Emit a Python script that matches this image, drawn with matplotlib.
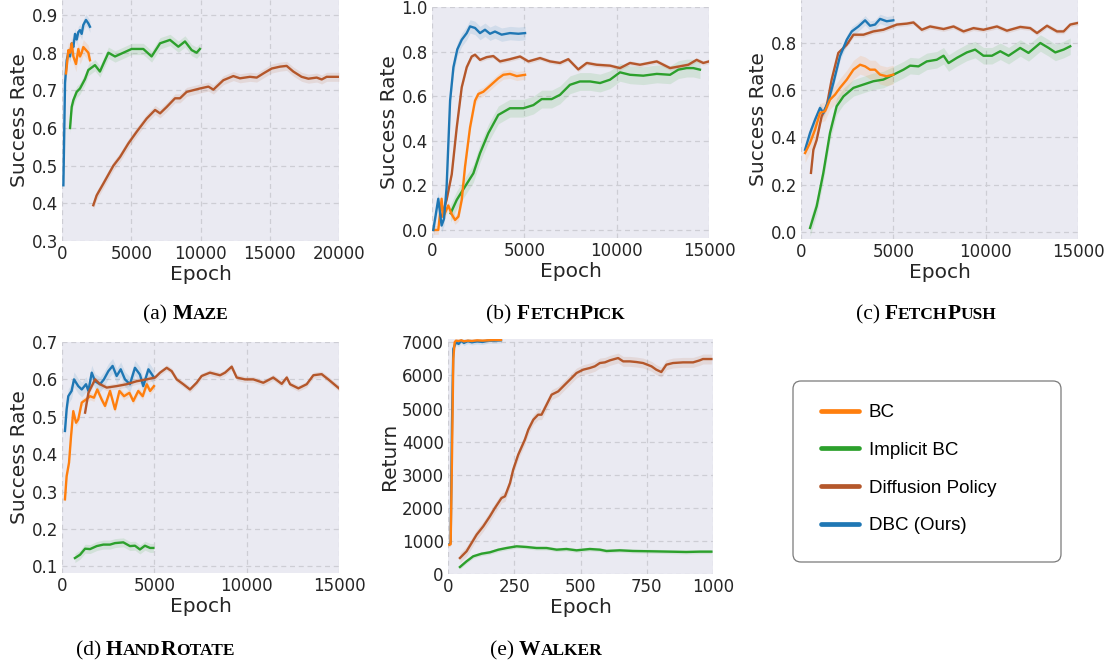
import matplotlib
matplotlib.use("Agg")
import matplotlib.pyplot as plt
from matplotlib.lines import Line2D
from matplotlib.patches import FancyBboxPatch
from matplotlib.transforms import IdentityTransform
from matplotlib.offsetbox import TextArea, HPacker, AnnotationBbox

# ---- data ----
# (a) Maze
maze_dbc_x = [100, 220, 340, 460, 580, 700, 820, 940, 1060, 1180, 1300, 1420, 1540, 1730, 1900, 2020]
maze_dbc_y = [0.448, 0.72, 0.78, 0.80, 0.79, 0.825, 0.815, 0.85, 0.835, 0.855, 0.86, 0.85, 0.874, 0.887,
              0.878, 0.869]
maze_bc_x = [290, 460, 580, 700, 820, 1010, 1180, 1300, 1420, 1540, 1660, 1900, 2020]
maze_bc_y = [0.745, 0.807, 0.80, 0.825, 0.79, 0.77, 0.81, 0.79, 0.80, 0.815, 0.81, 0.80, 0.78]
maze_ibc_x = [580, 700, 820, 1060, 1300, 1660, 1900, 2380, 2740, 2980, 3350, 3830, 4430, 5030,
              5870, 6470, 7080, 7800, 8400, 8880, 9360, 9720, 9960]
maze_ibc_y = [0.60, 0.656, 0.674, 0.696, 0.705, 0.73, 0.754, 0.767, 0.75, 0.77, 0.80, 0.79, 0.80, 0.81,
              0.81, 0.79, 0.825, 0.834, 0.816, 0.83, 0.807, 0.80, 0.81]
maze_dp_x = [2260, 2500, 2980, 3710, 4190, 4790, 5390, 6110, 6720, 7080, 7560, 8160, 8520, 9000, 9960,
             10570, 10930, 11650, 12370, 12850, 13570, 14060, 14540, 15140, 15740, 16220, 16700,
             17300, 17790, 18390, 18750, 19110, 20000]
maze_dp_y = [0.395, 0.421, 0.452, 0.50, 0.523, 0.559, 0.59, 0.625, 0.648, 0.639, 0.656, 0.679, 0.679,
             0.696, 0.705, 0.71, 0.702, 0.727, 0.738, 0.732, 0.736, 0.734, 0.745, 0.758, 0.763, 0.765,
             0.75, 0.736, 0.731, 0.734, 0.729, 0.736, 0.736]

# (b) FetchPick
pick_dbc_x = [70, 340, 520, 650, 790, 980, 1160, 1370, 1610, 1880, 2060, 2330, 2600, 2870, 3140, 3410,
              3770, 4220, 4680, 5040]
pick_dbc_y = [0.0, 0.14, 0.02, 0.05, 0.19, 0.58, 0.73, 0.81, 0.853, 0.883, 0.913, 0.906, 0.883, 0.898,
              0.88, 0.89, 0.876, 0.883, 0.88, 0.883]
pick_bc_x = [70, 340, 520, 610, 700, 880, 1070, 1250, 1430, 1610, 1790, 2060, 2330, 2510, 2780, 3050,
             3320, 3590, 3860, 4220, 4590, 5040]
pick_bc_y = [0.0, 0.0, 0.14, 0.06, 0.075, 0.11, 0.07, 0.045, 0.06, 0.135, 0.285, 0.46, 0.58, 0.61, 0.62,
             0.64, 0.66, 0.68, 0.696, 0.70, 0.69, 0.696]
pick_ibc_x = [1010, 1340, 1790, 2240, 2600, 3050, 3590, 4220, 4950, 5490, 5940, 6480, 6930, 7470, 8010,
              8560, 9100, 9640, 10180, 10720, 11440, 12170, 12890, 13340, 13790, 14150, 14510]
pick_ibc_y = [0.075, 0.135, 0.195, 0.254, 0.344, 0.434, 0.516, 0.546, 0.546, 0.56, 0.587, 0.587, 0.606,
              0.651, 0.666, 0.666, 0.659, 0.674, 0.707, 0.696, 0.692, 0.70, 0.696, 0.719, 0.726, 0.726,
              0.719]
pick_dp_x = [520, 790, 1070, 1340, 1610, 1880, 2150, 2330, 2600, 2960, 3320, 3680, 4220, 4770, 5220,
             5850, 6390, 6930, 7380, 7920, 8380, 8920, 9640, 10180, 10720, 11260, 12170, 12890, 13430,
             13880, 14330, 14690, 15000]
pick_dp_y = [0.06, 0.135, 0.25, 0.46, 0.64, 0.73, 0.778, 0.786, 0.763, 0.775, 0.78, 0.756, 0.766, 0.778,
             0.756, 0.771, 0.756, 0.749, 0.766, 0.72, 0.749, 0.741, 0.737, 0.726, 0.749, 0.741, 0.756,
             0.726, 0.734, 0.741, 0.763, 0.749, 0.756]

# (c) FetchPush
push_dbc_x = [220, 490, 760, 1030, 1210, 1480, 1750, 2110, 2480, 2750, 3110, 3470, 3740, 4010, 4280,
              4640, 5000]
push_dbc_y = [0.348, 0.419, 0.475, 0.525, 0.504, 0.553, 0.63, 0.744, 0.814, 0.849, 0.87, 0.896, 0.873,
              0.878, 0.902, 0.892, 0.896]
push_bc_x = [220, 490, 760, 1030, 1300, 1570, 1840, 2110, 2480, 2840, 3200, 3470, 3740, 4010, 4280,
             4640, 5000]
push_bc_y = [0.334, 0.377, 0.433, 0.504, 0.511, 0.56, 0.581, 0.61, 0.645, 0.687, 0.708, 0.701, 0.687,
             0.687, 0.666, 0.659, 0.666]
push_ibc_x = [490, 850, 1210, 1570, 1930, 2300, 2840, 3380, 3920, 4460, 5010, 5550, 5910, 6360, 6810,
              7350, 7720, 7990, 8440, 8980, 9430, 9880, 10340, 10790, 11240, 11870, 12320, 12960, 13410,
              13770, 14220, 14580]
push_ibc_y = [0.017, 0.109, 0.25, 0.419, 0.532, 0.574, 0.61, 0.624, 0.638, 0.645, 0.666, 0.687, 0.704,
              0.701, 0.722, 0.729, 0.746, 0.715, 0.737, 0.76, 0.772, 0.746, 0.746, 0.765, 0.746, 0.779,
              0.758, 0.80, 0.779, 0.76, 0.772, 0.786]
push_dp_x = [540, 670, 850, 1120, 1390, 1660, 2020, 2480, 2840, 3380, 3920, 4460, 5190, 5730, 6090,
             6540, 6990, 7720, 8260, 8800, 9340, 9880, 10610, 11150, 11870, 12410, 12780, 13320, 13860,
             14220, 14580, 15000]
push_dp_y = [0.25, 0.348, 0.39, 0.49, 0.532, 0.645, 0.758, 0.793, 0.835, 0.835, 0.849, 0.856, 0.878,
             0.882, 0.887, 0.856, 0.87, 0.859, 0.87, 0.849, 0.863, 0.856, 0.87, 0.852, 0.868, 0.863,
             0.842, 0.873, 0.849, 0.849, 0.878, 0.885]

# (d) HandRotate
hand_dbc_x = [160, 250, 340, 520, 650, 880, 1070, 1300, 1430, 1610, 1790, 2060, 2270, 2510, 2740, 2960,
              3180, 3410, 3680, 3950, 4220, 4400, 4680, 4980]
hand_dbc_y = [0.462, 0.52, 0.555, 0.569, 0.60, 0.582, 0.573, 0.587, 0.569, 0.618, 0.595, 0.587, 0.60,
              0.622, 0.636, 0.609, 0.627, 0.60, 0.587, 0.631, 0.613, 0.582, 0.627, 0.605]
hand_bc_x = [160, 250, 380, 490, 610, 760, 880, 1070, 1300, 1520, 1730, 1910, 2150, 2330, 2600, 2870,
             3110, 3360, 3650, 3860, 4130, 4370, 4590, 4770, 4980]
hand_bc_y = [0.279, 0.341, 0.377, 0.448, 0.515, 0.484, 0.493, 0.538, 0.546, 0.555, 0.551, 0.573, 0.546,
             0.529, 0.569, 0.52, 0.569, 0.555, 0.564, 0.542, 0.569, 0.555, 0.587, 0.569, 0.582]
hand_ibc_x = [700, 980, 1250, 1520, 1880, 2240, 2600, 2870, 3320, 3680, 3950, 4220, 4490, 4770, 4950]
hand_ibc_y = [0.122, 0.131, 0.147, 0.146, 0.154, 0.158, 0.158, 0.162, 0.164, 0.154, 0.155, 0.145, 0.155,
              0.149, 0.149]
hand_dp_x = [1250, 1430, 1790, 2060, 2420, 2960, 3500, 4040, 4590, 5040, 5310, 5670, 5940, 6210, 6570,
             6930, 7290, 7560, 8010, 8560, 8830, 9190, 9460, 9910, 10360, 10900, 11440, 11900, 12170,
             12350, 12800, 13250, 13610, 14060, 14420, 15000]
hand_dp_y = [0.511, 0.564, 0.60, 0.587, 0.578, 0.582, 0.587, 0.595, 0.60, 0.605, 0.618, 0.631, 0.622,
             0.60, 0.587, 0.573, 0.591, 0.609, 0.618, 0.611, 0.618, 0.634, 0.605, 0.60, 0.60, 0.591,
             0.605, 0.588, 0.605, 0.587, 0.576, 0.587, 0.611, 0.614, 0.60, 0.576]

# (e) Walker
walker_dbc_x = [5, 10, 15, 20, 25, 30, 40, 50, 60, 75, 90, 110, 130, 150, 175, 200]
walker_dbc_y = [900, 950, 4500, 6800, 6900, 7000, 6950, 7050, 6980, 7040, 7000, 7030, 7010, 7050, 7050, 7060]
walker_bc_x = [5, 10, 15, 20, 25, 30, 40, 50, 60, 75, 90, 110, 130, 150, 175, 200]
walker_bc_y = [880, 900, 3500, 6500, 7000, 7050, 7040, 7060, 7030, 7050, 7040, 7060, 7050, 7060, 7070, 7070]
walker_ibc_x = [45, 70, 95, 127, 158, 190, 221, 259, 296, 334, 372, 410, 447, 485, 535, 573, 598, 648,
                698, 774, 837, 899, 950, 994]
walker_ibc_y = [211, 383, 534, 614, 655, 735, 785, 836, 816, 785, 785, 735, 755, 715, 755, 735, 695, 715,
                695, 685, 675, 665, 675, 675]
walker_dp_x = [45, 70, 89, 108, 133, 158, 177, 202, 215, 234, 246, 265, 290, 303, 322, 340, 353, 372,
               391, 416, 441, 460, 485, 510, 535, 554, 573, 592, 611, 642, 661, 686, 711, 736, 768, 786,
               805, 824, 849, 887, 925, 950, 962, 994]
walker_dp_y = [483, 685, 936, 1188, 1440, 1742, 1994, 2296, 2346, 2749, 3152, 3605, 4058, 4360, 4662,
               4813, 4813, 5115, 5418, 5518, 5720, 5871, 6072, 6173, 6223, 6274, 6374, 6394, 6455, 6525,
               6424, 6424, 6404, 6374, 6274, 6173, 6102, 6324, 6374, 6394, 6394, 6455, 6495, 6495]

# shaded band half widths, order: BC, Implicit BC, Diffusion Policy, DBC
maze_band = [0.02, 0.015, 0.012, 0.015]
pick_band = [0.02, 0.04, 0.01, 0.03]
push_band = [0.04, 0.035, 0.01, 0.02]
hand_band = [0.01, 0.012, 0.008, 0.02]
walker_band = [40, 60, 150, 80]

method_names = ["BC", "Implicit BC", "Diffusion Policy", "DBC (Ours)"]
colors = ["#ff7f0e", "#2ca02c", "#b4572b", "#1f77b4"]

W, H = 1109, 664
fig = plt.figure(figsize=(W / 100, H / 100), dpi=100)
plt.rcParams['font.family'] = 'DejaVu Sans'


def make_axes(l, t, r, b):
    ax = fig.add_axes([l / W, 1 - b / H, (r - l) / W, (b - t) / H])
    ax.set_facecolor("#eaeaf2")
    for s in ax.spines.values():
        s.set_visible(False)
    ax.grid(True, linestyle=(0, (4, 3)), color="#cdcdd4", linewidth=0.9)
    ax.set_axisbelow(True)
    ax.tick_params(length=0, labelsize=12, colors="#262626", pad=3)
    ax.set_xlabel("Epoch", fontsize=14.5, color="#262626", labelpad=1.5)
    return ax


def draw(ax, series, band):
    # series in plotting order
    for (x, y, ci) in series:
        lo = [v - band[ci] for v in y]
        hi = [v + band[ci] for v in y]
        ax.fill_between(x, lo, hi, color=colors[ci], alpha=0.12, linewidth=0)
        ax.plot(x, y, color=colors[ci], linewidth=1.7)


# (a)
ax = make_axes(62, 0, 339, 241)
draw(ax, [(maze_dp_x, maze_dp_y, 2), (maze_ibc_x, maze_ibc_y, 1),
          (maze_dbc_x, maze_dbc_y, 3), (maze_bc_x, maze_bc_y, 0)], maze_band)
ax.set_xlim(0, 20000)
ax.set_ylim(0.3, 0.94)
ax.set_xticks([0, 5000, 10000, 15000, 20000])
ax.set_yticks([0.3, 0.4, 0.5, 0.6, 0.7, 0.8, 0.9])
ax.set_ylabel("Success Rate", fontsize=14.5, color="#262626", labelpad=2)

# (b)
ax = make_axes(432, 7, 709, 238)
draw(ax, [(pick_ibc_x, pick_ibc_y, 1), (pick_dp_x, pick_dp_y, 2),
          (pick_bc_x, pick_bc_y, 0), (pick_dbc_x, pick_dbc_y, 3)], pick_band)
ax.set_xlim(0, 15000)
ax.set_ylim(-0.036, 1.0)
ax.set_xticks([0, 5000, 10000, 15000])
ax.set_yticks([0.0, 0.2, 0.4, 0.6, 0.8, 1.0])
ax.set_ylabel("Success Rate", fontsize=14.5, color="#262626", labelpad=2)

# (c)
ax = make_axes(801, 0, 1078, 239)
draw(ax, [(push_ibc_x, push_ibc_y, 1), (push_dp_x, push_dp_y, 2),
          (push_dbc_x, push_dbc_y, 3), (push_bc_x, push_bc_y, 0)], push_band)
ax.set_xlim(0, 15000)
ax.set_ylim(-0.03, 0.982)
ax.set_xticks([0, 5000, 10000, 15000])
ax.set_yticks([0.0, 0.2, 0.4, 0.6, 0.8])
ax.set_ylabel("Success Rate", fontsize=14.5, color="#262626", labelpad=2)

# (d)
ax = make_axes(62, 342, 339, 573)
draw(ax, [(hand_ibc_x, hand_ibc_y, 1), (hand_bc_x, hand_bc_y, 0),
          (hand_dbc_x, hand_dbc_y, 3), (hand_dp_x, hand_dp_y, 2)], hand_band)
ax.set_xlim(0, 15000)
ax.set_ylim(0.082, 0.7)
ax.set_xticks([0, 5000, 10000, 15000])
ax.set_yticks([0.1, 0.2, 0.3, 0.4, 0.5, 0.6, 0.7])
ax.set_ylabel("Success Rate", fontsize=14.5, color="#262626", labelpad=2)

# (e)
ax = make_axes(448, 339, 713, 574)
draw(ax, [(walker_ibc_x, walker_ibc_y, 1), (walker_dp_x, walker_dp_y, 2),
          (walker_dbc_x, walker_dbc_y, 3), (walker_bc_x, walker_bc_y, 0)], walker_band)
ax.set_xlim(0, 1000)
ax.set_ylim(0, 7100)
ax.set_xticks([0, 250, 500, 750, 1000])
ax.set_yticks(range(0, 8000, 1000))
ax.set_ylabel("Return", fontsize=14.5, color="#262626", labelpad=2)

# captions with fake small caps
big, small = 15.5, 12.5
captions = [
    ("(a) ", [("M", big), ("AZE", small)], 186, 314),
    ("(b) ", [("F", big), ("ETCH", small), ("P", big), ("ICK", small)], 556, 314),
    ("(c) ", [("F", big), ("ETCH", small), ("P", big), ("USH", small)], 926, 314),
    ("(d) ", [("H", big), ("AND", small), ("R", big), ("OTATE", small)], 155, 650),
    ("(e) ", [("W", big), ("ALKER", small)], 546, 650),
]
for prefix, parts, cx, cy in captions:
    boxes = [TextArea(prefix, textprops=dict(family="Liberation Serif", size=big, color="black"))]
    for txt, sz in parts:
        boxes.append(TextArea(txt, textprops=dict(family="Liberation Serif", size=sz,
                                                  weight="bold", color="black")))
    pack = HPacker(children=boxes, align="baseline", pad=0, sep=0)
    ab = AnnotationBbox(pack, (cx / W, 1 - cy / H), xycoords="figure fraction",
                        frameon=False, box_alignment=(0.5, 0.5))
    fig.add_artist(ab)

# legend box
frame = FancyBboxPatch((793, H - 562), 268, 181, boxstyle="round,pad=0,rounding_size=8",
                       facecolor="white", edgecolor="#7a7a7a", linewidth=0.9,
                       transform=IdentityTransform())
fig.add_artist(frame)
handles = [Line2D([], [], color=c, linewidth=3.4, solid_capstyle="round") for c in colors]
fig.legend(handles, method_names, loc="upper left", bbox_to_anchor=(821 / W, 1 - 404 / H),
           frameon=False, borderpad=0, borderaxespad=0, handlelength=2.0, handletextpad=0.55,
           labelspacing=1.1, prop=dict(family="Liberation Sans", size=13.5))

fig.savefig("out.png", dpi=100)
